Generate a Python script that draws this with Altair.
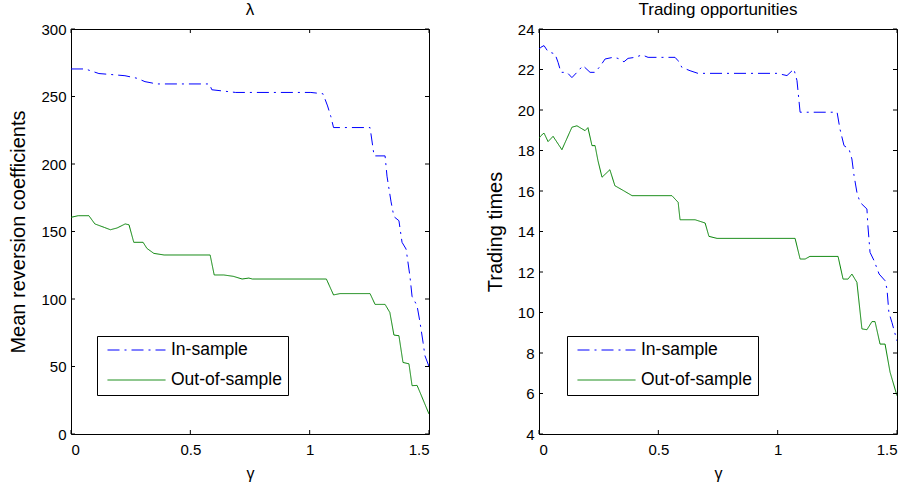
import altair as alt
import pandas as pd

FONT = "Liberation Sans, Arial, sans-serif"

# ---- data ----
gamma_lam_in = [0, 0.06, 0.117, 0.16, 0.226, 0.277, 0.31, 0.34, 0.352, 0.58, 0.59, 0.69, 1.005, 1.056,
                1.075, 1.089, 1.10, 1.253, 1.27, 1.316, 1.324, 1.341, 1.353, 1.374, 1.387, 1.404, 1.42,
                1.429, 1.45, 1.462, 1.475, 1.483, 1.5]
lam_in = [270.4, 270.4, 267, 266.4, 265.4, 263.5, 261, 260, 259.3, 259.3, 255, 253, 253, 252,
          243, 235, 227, 227, 206, 206, 191, 172, 161, 158, 142, 137, 117,
          102, 95, 83, 68, 58, 50]

gamma_lam_out = [0, 0.03, 0.075, 0.1, 0.14, 0.165, 0.193, 0.227, 0.243, 0.263, 0.302, 0.318, 0.347, 0.39,
                 0.583, 0.6, 0.64, 0.68, 0.717, 0.745, 0.76, 1.07, 1.10, 1.127, 1.253, 1.274, 1.316,
                 1.336, 1.353, 1.374, 1.391, 1.416, 1.429, 1.45, 1.462, 1.5]
lam_out = [160.5, 161.7, 161.7, 155.6, 153, 151.3, 152.6, 155.6, 155, 142, 142, 137.5, 133.8, 132.6,
           132.6, 117.8, 117.8, 116.8, 114.8, 115.5, 114.8, 114.8, 103, 104, 104, 96, 96,
           90, 73.3, 72.8, 53, 52, 35.8, 36, 31, 14.8]

gamma_tr_in = [0, 0.008, 0.021, 0.038, 0.067, 0.08, 0.092, 0.117, 0.138, 0.159, 0.184, 0.214, 0.235,
               0.256, 0.277, 0.31, 0.331, 0.356, 0.373, 0.402, 0.432, 0.457, 0.57, 0.583, 0.599,
               0.633, 0.666, 0.997, 1.039, 1.068, 1.081, 1.094, 1.249, 1.261, 1.278, 1.299, 1.311,
               1.32, 1.332, 1.345, 1.374, 1.378, 1.387, 1.404, 1.425, 1.45, 1.458, 1.466, 1.479, 1.5]
tr_in = [23.0, 23.1, 23.18, 22.88, 22.77, 22.35, 21.86, 21.86, 21.6, 21.86, 22.19, 21.86, 21.86,
         22.16, 22.52, 22.6, 22.55, 22.38, 22.55, 22.6, 22.72, 22.6, 22.6, 22.43, 22.1,
         21.94, 21.81, 21.81, 21.7, 22.02, 21.45, 19.89, 19.89, 19.06, 18.24, 18.07, 17.58,
         16.76, 15.94, 15.44, 15.11, 14.29, 12.97, 12.56, 11.9, 11.57, 11.16, 10.0, 9.5, 8.6]

gamma_tr_out = [0, 0.008, 0.021, 0.038, 0.059, 0.096, 0.138, 0.159, 0.193, 0.205, 0.222, 0.235, 0.247,
                0.264, 0.297, 0.318, 0.348, 0.39, 0.557, 0.583, 0.591, 0.654, 0.696, 0.712, 0.746,
                1.073, 1.094, 1.115, 1.135, 1.253, 1.274, 1.295, 1.311, 1.332, 1.353, 1.374, 1.395,
                1.408, 1.429, 1.45, 1.471, 1.5]
tr_out = [18.6, 18.73, 18.86, 18.44, 18.7, 18.04, 19.15, 19.22, 18.98, 19.13, 18.24, 18.24, 17.5,
          16.68, 17.05, 16.26, 16.06, 15.77, 15.77, 15.44, 14.58, 14.58, 14.42, 13.76, 13.66,
          13.66, 12.64, 12.64, 12.77, 12.77, 11.65, 11.65, 11.9, 11.49, 9.19, 9.15, 9.55,
          9.55, 8.44, 8.44, 7.05, 5.89]

series_names = ["In-sample", "Out-of-sample"]
x_ticks = [0, 0.5, 1, 1.5]
lam_ticks = [0, 50, 100, 150, 200, 250, 300]
tr_ticks = [4, 6, 8, 10, 12, 14, 16, 18, 20, 22, 24]

W, H = 358, 405
TICK = 4


def frame(gx_in, y_in, gx_out, y_out):
    d1 = pd.DataFrame({"g": gx_in, "v": y_in, "s": series_names[0], "o": range(len(gx_in))})
    d2 = pd.DataFrame({"g": gx_out, "v": y_out, "s": series_names[1], "o": range(len(gx_out))})
    return pd.concat([d1, d2], ignore_index=True)


def panel(df, ydomain, yticks, ytitle, title, lx, ly):
    xs = alt.Scale(domain=[0, 1.5], nice=False, zero=False)
    ys = alt.Scale(domain=ydomain, nice=False, zero=False)
    xenc = alt.X("g:Q", scale=xs, axis=alt.Axis(values=x_ticks, format="~g", title="γ"))
    yenc = alt.Y("v:Q", scale=ys, axis=alt.Axis(values=yticks, format="d", title=ytitle))
    leg = dict(orient="none", legendX=lx, legendY=ly, title=None,
               strokeColor="black", fillColor="white", padding=6,
               symbolType="stroke", symbolSize=3364, symbolStrokeWidth=1,
               symbolOffset=4, labelOffset=5, clipHeight=16, rowPadding=12,
               labelFontSize=17.5, labelFont=FONT, labelColor="black")
    lines = alt.Chart(df).mark_line(strokeWidth=1, clip=True).encode(
        x=xenc, y=yenc,
        order="o:Q",
        color=alt.Color("s:N", scale=alt.Scale(domain=series_names, range=["#0000ff", "#008000"]),
                        legend=alt.Legend(**leg)),
        strokeDash=alt.StrokeDash("s:N", scale=alt.Scale(domain=series_names,
                                                          range=[[12, 5, 2, 5], [1, 0]]),
                                  legend=alt.Legend(**leg)),
    )
    xt = pd.DataFrame({"g": x_ticks})
    yt = pd.DataFrame({"v": yticks})
    bot = alt.Chart(xt).mark_rule(color="black").encode(
        x=xenc, y=alt.value(H), y2=alt.value(H - TICK))
    top = alt.Chart(xt).mark_rule(color="black").encode(
        x=xenc, y=alt.value(0), y2=alt.value(TICK))
    lft = alt.Chart(yt).mark_rule(color="black").encode(
        y=yenc, x=alt.value(0), x2=alt.value(TICK))
    rgt = alt.Chart(yt).mark_rule(color="black").encode(
        y=yenc, x=alt.value(W), x2=alt.value(W - TICK))
    return alt.layer(lines, bot, top, lft, rgt).properties(
        width=W, height=H,
        title=alt.TitleParams(title, font=FONT, fontSize=17, fontWeight="normal",
                              color="black", offset=3))


left = panel(frame(gamma_lam_in, lam_in, gamma_lam_out, lam_out), [0, 300], lam_ticks,
             "Mean reversion coefficients", "λ", 26, 307)
right = panel(frame(gamma_tr_in, tr_in, gamma_tr_out, tr_out), [4, 24], tr_ticks,
              "Trading times", "Trading opportunities", 28, 307)

chart = alt.hconcat(left, right, spacing=110, bounds="flush").resolve_scale(
    x="independent", y="independent", color="independent", strokeDash="independent"
).resolve_legend(color="independent", strokeDash="independent").properties(
    padding={"left": 8, "top": 0, "right": 12, "bottom": 0},
    background="white",
).configure_view(stroke="black", strokeWidth=1).configure_axis(
    domain=False, ticks=False, grid=False, labelFont=FONT, labelFontSize=15, labelColor="black",
    titleFont=FONT, titleFontSize=16, titleFontWeight="normal", titleColor="black", labelPadding=5,
).configure_axisX(titlePadding=8, labelPadding=8).configure_axisY(titlePadding=12, titleFontSize=20)

chart.save("out.html", embed_options={"renderer": "svg", "actions": False})
